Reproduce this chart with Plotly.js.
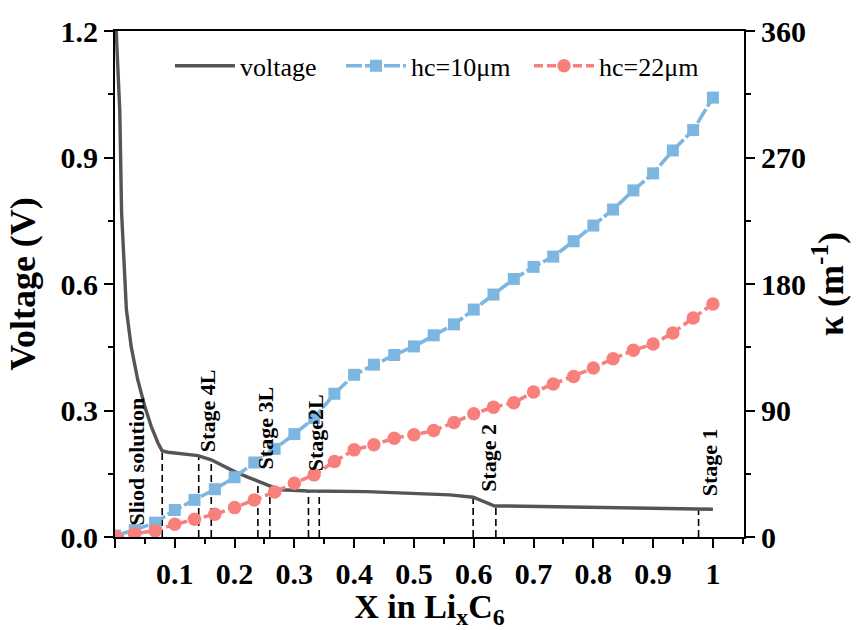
<!DOCTYPE html>
<html>
<head>
<meta charset="utf-8">
<script src="https://cdn.plot.ly/plotly-3.0.1.min.js"></script>
<style>
  html, body { margin: 0; padding: 0; background: #fff; }
  #chart { width: 862px; height: 630px; }
</style>
</head>
<body>
<div id="chart"></div>
<script>
// Discharge voltage profile of graphite vs. lithium content
const voltX = [0.002, 0.008, 0.011, 0.015, 0.019, 0.027, 0.038, 0.0497, 0.0607, 0.0719, 0.079,
               0.0886, 0.1166, 0.1388, 0.161, 0.178, 0.2, 0.222, 0.245, 0.261, 0.278, 0.3, 0.323,
               0.421, 0.504, 0.56, 0.599, 0.616, 0.635, 0.655, 0.811, 1.0];
const voltV = [1.2, 1.01, 0.77, 0.65, 0.54, 0.452, 0.373, 0.31, 0.262, 0.223, 0.204,
               0.201, 0.197, 0.193, 0.183, 0.171, 0.155, 0.142, 0.128, 0.12, 0.112, 0.110, 0.109,
               0.1076, 0.104, 0.0998, 0.0943, 0.0839, 0.0736, 0.0736, 0.0705, 0.0657];

// Conductivity kappa (m^-1) for two coating thicknesses
const kappaX = [0, 0.033, 0.067, 0.1, 0.133, 0.167, 0.2, 0.233, 0.267, 0.3, 0.333,
                0.367, 0.4, 0.433, 0.467, 0.5, 0.533, 0.567, 0.6, 0.633, 0.667,
                0.7, 0.733, 0.767, 0.8, 0.833, 0.867, 0.9, 0.933, 0.967, 1.0];
const kappa10 = [1, 5, 10.2, 19.2, 26.4, 34, 42.5, 53, 62.7, 73.2, 84.6,
                 101.9, 115.4, 122.6, 129.5, 135.6, 143.5, 151.3, 161.8, 172.5, 183.6,
                 192.2, 199.5, 210.4, 221.6, 233, 246.6, 258.7, 275, 289.5, 312.6];
const kappa22 = [0.5, 2.5, 4.5, 9, 12.6, 16.2, 20.9, 26.4, 32, 38.3, 44.2,
                 53.7, 62, 65.6, 70.3, 72.7, 75.7, 81.5, 87.7, 92.4, 95.5,
                 103.1, 108.8, 114.2, 120.2, 126.8, 132.8, 137.3, 145.2, 155.8, 165.8];

// Stage boundaries: x position and voltage where each marker line meets the curve
const stageX = [0.079, 0.140, 0.161, 0.239, 0.259, 0.3236, 0.3416, 0.599, 0.637, 0.976];
const stageV = [0.204, 0.193, 0.183, 0.133, 0.120, 0.109, 0.109, 0.0943, 0.0736, 0.066];

// Stage names and where they sit (x, bottom of the text in volts)
const stageNames = ['Sliod solution', 'Stage 4L', 'Stage 3L', 'Stage2L', 'Stage 2', 'Stage 1'];
const stageLabelX = [0.0363, 0.1538, 0.2508, 0.3356, 0.6254, 0.9958];
const stageLabelY = [0.024, 0.200, 0.159, 0.154, 0.1045, 0.095];

const FONT = '"Liberation Serif", "Times New Roman", Times, serif';
const GRAY = '#555555';
const BLUE = '#7db6e0';
const RED = '#f8807c';

const dashX = [], dashY = [];
stageX.forEach((x, i) => { dashX.push(x, x, null); dashY.push(0, stageV[i], null); });

const traces = [
  {
    x: dashX, y: dashY, mode: 'lines', yaxis: 'y', showlegend: false, hoverinfo: 'skip',
    line: { color: '#000', width: 1.6, dash: '7px,4px' }
  },
  {
    name: 'voltage', x: voltX, y: voltV, mode: 'lines', yaxis: 'y', legend: 'legend',
    line: { color: GRAY, width: 3.4 }
  },
  {
    name: 'hc=10μm', x: kappaX, y: kappa10, mode: 'lines+markers', yaxis: 'y2', legend: 'legend2',
    line: { color: BLUE, width: 3.6, dash: '16px,3px' },
    marker: { symbol: 'square', size: 12, color: BLUE }
  },
  {
    name: 'hc=22μm', x: kappaX, y: kappa22, mode: 'lines+markers', yaxis: 'y2', legend: 'legend3',
    line: { color: RED, width: 3.6, dash: '9px,4px' },
    marker: { symbol: 'circle', size: 13.5, color: RED }
  }
];

const tickFont = { family: FONT, size: 30, color: '#000', weight: 'bold' };
const titleFont = { family: FONT, size: 36, color: '#000', weight: 'bold' };

const annotations = stageNames.map((t, i) => ({
  text: t, x: stageLabelX[i], y: stageLabelY[i], xref: 'x', yref: 'y',
  xanchor: 'center', yanchor: 'bottom', textangle: -90, showarrow: false,
  font: { family: FONT, size: 22, color: '#000', weight: 'bold' }, borderpad: 0
}));

function legendAt(x) {
  return {
    orientation: 'h', x: x, y: 0.931, xanchor: 'left', yanchor: 'middle',
    font: { family: FONT, size: 26, color: '#000' }, bgcolor: 'rgba(0,0,0,0)',
    itemwidth: 60
  };
}

const layout = {
  width: 862, height: 630,
  margin: { l: 115, r: 118, t: 31, b: 93 },
  paper_bgcolor: '#fff', plot_bgcolor: '#fff',
  font: { family: FONT, color: '#000' },
  showlegend: true,
  legend: legendAt(0.0874),
  legend2: legendAt(0.3593),
  legend3: legendAt(0.6582),
  xaxis: {
    range: [0, 1.052], tick0: 0, dtick: 0.1, ticks: 'outside', ticklen: 9, tickwidth: 2,
    tickcolor: '#000', showline: true, linewidth: 2, linecolor: '#000', mirror: true,
    showgrid: false, zeroline: false, tickfont: tickFont, labelalias: { '0': '' },
    minor: { dtick: 0.05, ticks: 'outside', ticklen: 5, tickwidth: 2, tickcolor: '#000', showgrid: false },
    title: { text: 'X in Li<sub>x</sub>C<sub>6</sub>', font: { family: FONT, size: 34, color: '#000', weight: 'bold' }, standoff: 7 }
  },
  yaxis: {
    range: [0, 1.2], tick0: 0, dtick: 0.3, tickformat: '.1f', ticks: 'outside', ticklen: 9,
    tickwidth: 2, tickcolor: '#000', showline: true, linewidth: 2, linecolor: '#000',
    showgrid: false, zeroline: false, tickfont: tickFont,
    minor: { dtick: 0.15, ticks: 'outside', ticklen: 5, tickwidth: 2, tickcolor: '#000', showgrid: false },
    title: { text: 'Voltage (V)', font: titleFont, standoff: 14 }
  },
  yaxis2: {
    overlaying: 'y', side: 'right', range: [0, 360], tick0: 0, dtick: 90,
    ticks: 'outside', ticklen: 9, tickwidth: 2, tickcolor: '#000', showline: true,
    linewidth: 2, linecolor: '#000', showgrid: false, zeroline: false, tickfont: tickFont,
    minor: { dtick: 45, ticks: 'outside', ticklen: 5, tickwidth: 2, tickcolor: '#000', showgrid: false },
    title: { text: 'κ (m<sup>-1</sup>)', font: titleFont, standoff: 8 }
  },
  annotations: annotations
};

Plotly.newPlot('chart', traces, layout, { displayModeBar: false, staticPlot: true });
</script>
</body>
</html>
